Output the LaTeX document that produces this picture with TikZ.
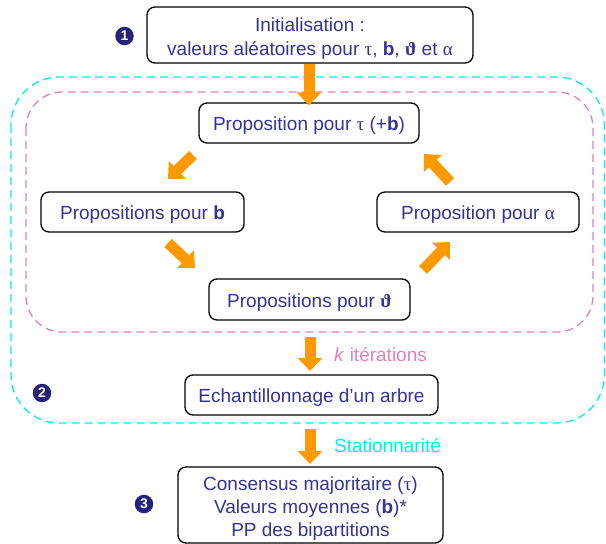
\documentclass[tikz,border=0pt]{standalone}
\usepackage{fontspec}
\setmainfont{Liberation Sans}
\newfontfamily\gk{Liberation Serif}
\usetikzlibrary{arrows.meta}
\definecolor{txtblue}{RGB}{52,52,150}
\definecolor{navy}{RGB}{38,34,120}
\definecolor{orng}{RGB}{255,153,0}
\definecolor{pinkd}{RGB}{222,130,185}
\definecolor{cyand}{RGB}{0,238,238}
\newcommand{\dnn}[2]{\raisebox{-#1}[\height][\depth]{#2}}
\tikzset{
  box/.style={draw=black, line width=1.3pt, rounded corners=8pt, fill=white,
    text=txtblue, inner sep=0pt,
    font=\fontsize{19pt}{23pt}\selectfont},
  bigarrow/.style={draw=orng, line width=11pt,
    -{Triangle[length=13pt,width=24pt]}},
  bullet/.style={circle, fill=navy, text=white, inner sep=0pt, minimum size=18.5pt,
    font=\fontsize{14pt}{14pt}\selectfont\bfseries},
  frame/.style={line width=1.3pt, dash pattern=on 8pt off 5pt},
  lbl/.style={anchor=west, inner sep=0pt, font=\fontsize{19pt}{23pt}\selectfont}
}
\begin{document}
\begin{tikzpicture}[x=1pt,y=-1pt]
\useasboundingbox (0,0) rectangle (606,544);
% frames
\draw[frame, cyand, rounded corners=48pt] (11,77) rectangle (604.5,423);
\draw[frame, pinkd, rounded corners=36pt] (26,92) rectangle (593,332);
% boxes
\node[box, minimum width=326pt, minimum height=56pt] (init) at (310,35)
  {\dnn{4pt}{\def\arraystretch{1.04}\begin{tabular}{@{}c@{}}Initialisation :\\ valeurs aléatoires pour {\gk τ}, \textbf{b}, {\gk\bfseries ϑ} et {\gk α}\end{tabular}}};
\node[box, minimum width=220pt, minimum height=40pt] (tau) at (309,123)
  {\dnn{3pt}{Proposition pour {\gk τ} (+\textbf{b})}};
\node[box, minimum width=203pt, minimum height=40pt] (pb) at (142.5,212)
  {\dnn{3pt}{Propositions pour \textbf{b}}};
\node[box, minimum width=202pt, minimum height=40pt] (pa) at (478,212)
  {\dnn{3pt}{Proposition pour {\gk α}}};
\node[box, minimum width=201pt, minimum height=41pt] (pt) at (309.5,299.5)
  {\dnn{3pt}{Propositions pour {\gk\bfseries ϑ}}};
\node[box, minimum width=253pt, minimum height=40pt] (ech) at (311.5,395)
  {\dnn{3pt}{Echantillonnage d’un arbre}};
\node[box, minimum width=265pt, minimum height=76pt] (fin) at (310.5,505)
  {\dnn{4pt}{\begin{tabular}{@{}c@{}}Consensus majoritaire ({\gk τ})\\ Valeurs moyennes (\textbf{b})*\\ PP des bipartitions\end{tabular}}};
% bullets
\node[bullet] (n1) at (124.5,36) {1};
\node[bullet] (n2) at (42,393) {2};
\node[bullet] (n3) at (144,504) {3};
% arrow ends
\coordinate (tb1) at (193,155); \coordinate (tb2) at (168,179);
\coordinate (bt1) at (168,243); \coordinate (bt2) at (195,268);
\coordinate (ta1) at (423,270); \coordinate (ta2) at (450,242);
\coordinate (at1) at (450,182); \coordinate (at2) at (424,154);
\coordinate (k1) at (310,337); \coordinate (k2) at (310,371);
\coordinate (s1) at (310,429); \coordinate (s2) at (310,464);
\draw[bigarrow] (init.south -| tau.north) -- ([yshift=-3pt]tau.north);
\draw[bigarrow] (tb1) -- (tb2);
\draw[bigarrow] (bt1) -- (bt2);
\draw[bigarrow] (ta1) -- (ta2);
\draw[bigarrow] (at1) -- (at2);
\draw[bigarrow] (k1) -- (k2);
\draw[bigarrow] (s1) -- (s2);
% labels
\node[lbl, text=pinkd] (kit) at (334,355) {\textit{k} itérations};
\node[lbl, text=cyand] (stat) at (334,446) {Stationnarité};
\end{tikzpicture}
\end{document}
